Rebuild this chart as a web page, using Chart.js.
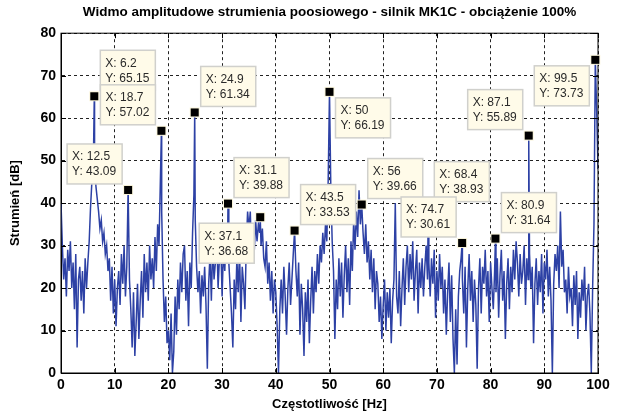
<!DOCTYPE html>
<html>
<head>
<meta charset="utf-8">
<title>Widmo amplitudowe strumienia poosiowego</title>
<script src="https://cdn.jsdelivr.net/npm/chart.js@4.4.1/dist/chart.umd.min.js"></script>
<style>
  html, body { margin: 0; padding: 0; background: #fff; }
  #wrap { width: 617px; height: 412px; }
</style>
</head>
<body>
<div id="wrap"><canvas id="myChart" width="617" height="412"></canvas></div>
<script>
'use strict';

// ******** DATA **********

let titleText = 'Widmo amplitudowe strumienia poosiowego - silnik MK1C - obciążenie 100%';
let xTitle = 'Częstotliwość [Hz]';
let yTitle = 'Strumień [dB]';

// spectrum read every 0.25 Hz, 0 .. 100 Hz (one row per Hz)
let freqStep = 0.25;
let amplitudes = [
  40, 30, 22, 27,
  18, 29, 24, 31,
  20, 26, 15, 28,
  6, 22, 25, 17,
  24, 14, 27, 20,
  26, 31, 39, 45,
  47, 52, 44, 41,
  38, 34, 36, 31,
  33, 28, 30, 24,
  27, 17, 25, 14,
  22, 11, 20, 24,   // 10 Hz
  16, 28, 21, 30,
  18, 25, 43, 22,
  15, 6, 19, 4,
  12, 21, 8, 17,
  24, 13, 28, 19,
  26, 17, 30, 22,
  27, 20, 32, 24,
  35, 30, 45, 38,
  22, 12, 18, 7,
  10, 3, 14, 0,     // 20 Hz
  5, 18, 9, 22,
  15, 26, 19, 28,
  30, 17, 24, 11,
  26, 20, 33, 42,
  36, 25, 19, 24,
  14, 23, 18, 25,
  16, 1, 21, 28,
  17, 30, 22, 26,
  33, 20, 27, 31,
  18, 29, 24, 34,   // 30 Hz
  28, 26, 20, 14,
  6, 22, 15, 27,
  19, 29, 12, 25,
  21, 15, 30, 38,
  34, 38, 26, 33,
  29, 36, 31, 35,
  33, 30, 34, 27,
  25, 31, 21, 26,
  17, 24, 14, 22,
  19, 11, 0, 15,    // 40 Hz
  22, 14, 25, 18,
  9, 20, 26, 16,
  22, 28, 33, 24,
  18, 26, 9, 21,
  15, 4, 19, 12,
  22, 7, 17, 25,
  14, 24, 19, 28,
  21, 30, 26, 33,
  28, 35, 31, 45,
  66, 43, 31, 24,   // 50 Hz
  8, 22, 15, 27,
  18, 26, 13, 23,
  30, 19, 27, 16,
  31, 24, 36, 29,
  38, 32, 43, 35,
  39, 33, 28, 35,
  26, 31, 22, 29,
  19, 27, 15, 24,
  21, 12, 18, 8,
  16, 22, 10, 19,   // 60 Hz
  13, 20, 7, 17,
  22, 40, 18, 14,
  24, 11, 20, 27,
  16, 25, 30, 19,
  28, 22, 31, 17,
  24, 29, 14, 26,
  20, 27, 18, 25,
  30, 22, 26, 18,
  27, 21, 29, 13,
  24, 17, 28, 20,   // 70 Hz
  25, 14, 22, 9,
  19, 26, 12, 23,
  8, 0, 15, 2,
  18, 24, 27, 22,
  14, 25, 6, 20,
  28, 17, 24, 12,
  22, 16, 1, 20,
  27, 14, 25, 21,
  29, 18, 24, 12,
  26, 20, 15, 24,   // 80 Hz
  19, 27, 13, 23,
  29, 17, 24, 8,
  21, 27, 15, 25,
  19, 29, 22, 31,
  26, 18, 28, 21,
  24, 30, 16, 27,
  22, 28, 20, 25,
  7, 21, 27, 16,
  24, 19, 28, 14,
  26, 22, 29, 18,   // 90 Hz
  25, 17, 0, 21,
  28, 24, 30, 20,
  38, 25, 29, 19,
  22, 14, 25, 18,
  20, 11, 23, 16,
  24, 8, 19, 13,
  22, 17, 25, 10,
  18, 21, 14, 0,
  20, 35, 73, 62,
  48                // 100 Hz
];

// marked peaks (data tips)
let peakFreqs = [6.2, 12.5, 18.7, 24.9, 31.1, 37.1, 43.5, 50, 56, 68.4, 74.7, 80.9, 87.1, 99.5];
let peakValues = [65.15, 43.09, 57.02, 61.34, 39.88, 36.68, 33.53, 66.19, 39.66, 38.93, 30.61, 31.64, 55.89, 73.73];
// where the tip box sits: u/l = above/below, r/l = right/left of the marker
let tipSides = ['ur', 'ul', 'ul', 'ur', 'ur', 'll', 'ur', 'lr', 'ur', 'ur', 'ul', 'ur', 'ul', 'll'];

// ******** BUILD SERIES **********

let points = [];
for (let i = 0; i < amplitudes.length; i++) {
  let f = Math.round(i * freqStep * 100) / 100;
  if (peakFreqs.includes(f)) {
    continue;
  }
  points.push({ x: f, y: amplitudes[i] });
}
for (let i = 0; i < peakFreqs.length; i++) {
  points.push({ x: peakFreqs[i], y: peakValues[i] });
}
points.sort((a, b) => a.x - b.x);

// ******** PLUGIN: axes box, inner ticks, data tips **********

let matlabLook = {
  id: 'matlabLook',
  afterDatasetsDraw(chart) {
    let ctx = chart.ctx;
    let xs = chart.scales.x;
    let ys = chart.scales.y;
    let area = chart.chartArea;

    ctx.save();
    ctx.setLineDash([]);
    ctx.strokeStyle = '#000';
    ctx.lineWidth = 1;
    ctx.strokeRect(area.left, area.top, area.right - area.left, area.bottom - area.top);

    ctx.beginPath();
    xs.ticks.forEach(t => {
      let px = Math.round(xs.getPixelForValue(t.value)) + 0.5;
      ctx.moveTo(px, area.bottom);
      ctx.lineTo(px, area.bottom - 5);
      ctx.moveTo(px, area.top);
      ctx.lineTo(px, area.top + 5);
    });
    ys.ticks.forEach(t => {
      let py = Math.round(ys.getPixelForValue(t.value)) + 0.5;
      ctx.moveTo(area.left, py);
      ctx.lineTo(area.left + 5, py);
      ctx.moveTo(area.right, py);
      ctx.lineTo(area.right - 5, py);
    });
    ctx.stroke();

    ctx.font = '12px "Liberation Sans", Arial, sans-serif';
    ctx.textBaseline = 'middle';
    ctx.textAlign = 'left';
    for (let i = 0; i < peakFreqs.length; i++) {
      let mx = xs.getPixelForValue(peakFreqs[i]);
      let my = ys.getPixelForValue(peakValues[i]);

      ctx.fillStyle = '#fbf6dc';
      ctx.fillRect(mx - 5, my - 5, 10, 10);
      ctx.fillStyle = '#000';
      ctx.fillRect(mx - 4, my - 4, 8, 8);

      let line1 = 'X: ' + peakFreqs[i];
      let line2 = 'Y: ' + peakValues[i].toFixed(2);
      let w = Math.max(ctx.measureText(line1).width, ctx.measureText(line2).width) + 11;
      let h = 40;
      let side = tipSides[i];
      let bx = side[1] === 'r' ? mx + 6 : mx - 6 - w;
      let by = side[0] === 'u' ? my - 6 - h : my + 6;

      ctx.fillStyle = '#fffbe9';
      ctx.fillRect(bx, by, w, h);
      ctx.strokeStyle = '#d0d0cc';
      ctx.lineWidth = 1.5;
      ctx.strokeRect(bx, by, w, h);
      ctx.fillStyle = '#2a2a2a';
      ctx.fillText(line1, bx + 5, by + 13);
      ctx.fillText(line2, bx + 5, by + 28);
    }
    ctx.restore();
  }
};

// ******** CHART **********

Chart.defaults.font.family = '"Liberation Sans", Arial, sans-serif';
Chart.defaults.color = '#000';

let ctx = document.getElementById('myChart').getContext('2d');

let myChartObj = {
  type: 'line',
  data: {
    datasets: [{
      label: 'Strumień',
      data: points,
      borderColor: '#2d41a5',
      borderWidth: 1.5,
      pointRadius: 0,
      tension: 0,
      fill: false
    }]
  },
  options: {
    responsive: false,
    animation: false,
    layout: {
      padding: { top: 0, right: 19, bottom: 0, left: 0 }
    },
    plugins: {
      legend: { display: false },
      tooltip: { enabled: false },
      title: {
        display: true,
        fullSize: false,
        text: titleText,
        color: '#000',
        font: { size: 13.5, weight: 'bold' },
        padding: { top: 4, bottom: 13 }
      }
    },
    scales: {
      x: {
        type: 'linear',
        min: 0,
        max: 100,
        afterFit: s => { s.height = 39; },
        ticks: {
          stepSize: 10,
          maxRotation: 0,
          autoSkip: false,
          padding: 4,
          color: '#000',
          font: { size: 14, weight: 'bold' }
        },
        grid: { color: '#222', lineWidth: 1, drawTicks: false },
        border: { display: true, color: '#000', dash: [3, 3] },
        title: {
          display: true,
          text: xTitle,
          color: '#000',
          font: { size: 13, weight: 'bold' },
          padding: { top: 0, bottom: 0 }
        }
      },
      y: {
        min: 0,
        max: 80,
        afterFit: s => { s.width = 61; },
        ticks: {
          stepSize: 10,
          padding: 5,
          color: '#000',
          font: { size: 14, weight: 'bold' }
        },
        grid: { color: '#222', lineWidth: 1, drawTicks: false },
        border: { display: true, color: '#000', dash: [3, 3] },
        title: {
          display: true,
          text: yTitle,
          color: '#000',
          font: { size: 13, weight: 'bold' },
          padding: { top: 8, bottom: 0 }
        }
      }
    }
  },
  plugins: [matlabLook]
};

new Chart(ctx, myChartObj);
</script>
</body>
</html>
